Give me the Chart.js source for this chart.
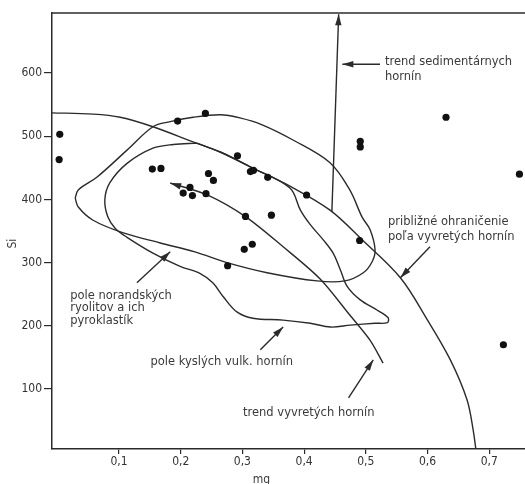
<!DOCTYPE html>
<html lang="sk">
<head>
<meta charset="UTF-8">
<title>Si – mg</title>
<script src="https://cdn.jsdelivr.net/npm/chart.js"></script>
<style>
  html, body { margin: 0; padding: 0; background: #fff; }
  #graf { display: block; }
</style>
</head>
<body>
<canvas id="graf" width="525" height="484"></canvas>
<script>
// vzorky (mg, Si)
const mg = [0.004, 0.003, 0.154, 0.168, 0.195, 0.240, 0.292, 0.313, 0.318, 0.341,
            0.404, 0.245, 0.253, 0.215, 0.204, 0.219, 0.241, 0.305, 0.347, 0.316,
            0.303, 0.276, 0.490, 0.491, 0.491, 0.630, 0.749, 0.723];
const si = [503, 463, 448, 449, 524, 536, 469, 444, 446, 435,
            407, 441, 430, 419, 410, 406, 409, 373, 375, 329,
            321, 295, 335, 492, 483, 530, 440, 170];

const xTicks = [0.1, 0.2, 0.3, 0.4, 0.5, 0.6, 0.7];
const yTicks = [100, 200, 300, 400, 500, 600];

// priblizne ohranicenie pola vyvretych hornin
const ohranicenie = [[-0.01, 537], [0.058, 535], [0.102, 530], [0.155, 515], [0.220, 491],
  [0.264, 475], [0.316, 450], [0.377, 421], [0.442, 383], [0.494, 336], [0.556, 276],
  [0.600, 209], [0.637, 146], [0.664, 83], [0.674, 35], [0.679, 0]];

// pole norandskych ryolitov
const norandske = [[0.029, 402], [0.034, 415], [0.064, 435], [0.113, 478], [0.155, 515],
  [0.183, 523], [0.220, 530], [0.264, 534], [0.296, 529], [0.332, 518], [0.382, 494],
  [0.442, 458], [0.474, 415], [0.494, 372], [0.507, 352], [0.515, 320], [0.510, 301],
  [0.496, 284], [0.466, 271], [0.421, 271], [0.340, 284], [0.275, 300], [0.223, 317],
  [0.167, 331], [0.107, 347], [0.058, 367], [0.034, 388], [0.029, 402]];

// pole kyslych vulk. hornin
const kysle = [[0.226, 489], [0.188, 487], [0.155, 481], [0.113, 457], [0.085, 426],
  [0.077, 399], [0.082, 372], [0.094, 354], [0.113, 340], [0.155, 315], [0.199, 294],
  [0.231, 283], [0.252, 268], [0.269, 246], [0.291, 222], [0.317, 212], [0.366, 209],
  [0.410, 204], [0.443, 198], [0.475, 201], [0.515, 204], [0.535, 205], [0.536, 213],
  [0.518, 225], [0.491, 241], [0.470, 262], [0.459, 288], [0.447, 315], [0.431, 336],
  [0.410, 360], [0.394, 383], [0.377, 418], [0.316, 450], [0.264, 475], [0.226, 489]];

// trendy (posledny bod = hrot sipky)
const trendVyvrete = [[0.528, 141], [0.507, 177], [0.474, 217], [0.426, 274], [0.366, 325],
  [0.306, 372], [0.243, 407], [0.183, 426]];
const trendSediment = [[0.445, 380], [0.456, 693]];

// odkazove sipky k popisom
const sipky = [
  [[0.523, 614], [0.462, 614]],
  [[0.604, 325], [0.556, 276]],
  [[0.129, 268], [0.183, 317]],
  [[0.329, 162], [0.366, 198]],
  [[0.472, 86], [0.512, 146]]
];

const popisy = [
  { text: 'trend sedimentárnych', mg: 0.531, si: 617 },
  { text: 'hornín', mg: 0.531, si: 593 },
  { text: 'približné ohraničenie', mg: 0.536, si: 364 },
  { text: 'poľa vyvretých hornín', mg: 0.536, si: 340 },
  { text: 'pole norandských', mg: 0.021, si: 247 },
  { text: 'ryolitov a ich', mg: 0.021, si: 228 },
  { text: 'pyroklastík', mg: 0.021, si: 207 },
  { text: 'pole kyslých vulk. hornín', mg: 0.151, si: 143 },
  { text: 'trend vyvretých hornín', mg: 0.301, si: 62 }
];

const farba = '#2b2b2b';
const pismo = "'DejaVu Sans Condensed', 'DejaVu Sans', sans-serif";
const pismoPopis = "'DejaVu Sans', sans-serif";

function krivka(body, napnutie, sipka) {
  return {
    data: body.map(b => ({ x: b[0], y: b[1] })),
    showLine: true,
    tension: napnutie,
    borderColor: farba,
    borderWidth: 1.4,
    pointRadius: 0,
    fill: false,
    sipka: sipka
  };
}

const kresba = {
  id: 'kresba',
  afterDatasetsDraw(chart) {
    const { ctx, chartArea, scales: { x, y } } = chart;
    ctx.save();
    // horny okraj
    ctx.strokeStyle = farba;
    ctx.lineWidth = 1.5;
    ctx.beginPath();
    ctx.moveTo(chartArea.left, chartArea.top);
    ctx.lineTo(chartArea.right, chartArea.top);
    ctx.stroke();

    // hroty sipok
    ctx.fillStyle = farba;
    chart.data.datasets.forEach((ds, i) => {
      if (!ds.sipka) return;
      const el = chart.getDatasetMeta(i).data;
      const a = el[el.length - 2], b = el[el.length - 1];
      const uhol = Math.atan2(b.y - a.y, b.x - a.x);
      ctx.save();
      ctx.translate(b.x, b.y);
      ctx.rotate(uhol);
      ctx.beginPath();
      ctx.moveTo(0, 0);
      ctx.lineTo(-11, -3.2);
      ctx.lineTo(-11, 3.2);
      ctx.closePath();
      ctx.fill();
      ctx.restore();
    });

    // popisy
    ctx.fillStyle = '#3a3a3a';
    ctx.font = '11.5px ' + pismoPopis;
    ctx.textAlign = 'left';
    ctx.textBaseline = 'middle';
    popisy.forEach(p => ctx.fillText(p.text, x.getPixelForValue(p.mg), y.getPixelForValue(p.si)));

    // nazvy osi
    ctx.font = '12px ' + pismo;
    ctx.textAlign = 'center';
    ctx.fillText('mg', x.getPixelForValue(0.331), chartArea.bottom + 31);
    ctx.translate(chartArea.left - 39, y.getPixelForValue(330));
    ctx.rotate(-Math.PI / 2);
    ctx.fillText('Si', 0, 0);
    ctx.restore();
  }
};

const ctx = document.getElementById('graf');

new Chart(ctx, {
  type: 'scatter',
  data: {
    datasets: [
      {
        data: mg.map((v, i) => ({ x: v, y: si[i] })),
        backgroundColor: '#111',
        borderWidth: 0,
        pointRadius: 3.6
      },
      krivka(ohranicenie, 0.35, false),
      krivka(norandske, 0.35, false),
      krivka(kysle, 0.35, false),
      krivka(trendVyvrete, 0.3, true),
      krivka(trendSediment, 0, true),
      ...sipky.map(s => krivka(s, 0, true))
    ]
  },
  options: {
    responsive: false,
    animation: false,
    layout: { autoPadding: false, padding: { top: 13, right: 0, left: 0, bottom: 0 } },
    plugins: { legend: { display: false }, tooltip: { enabled: false } },
    scales: {
      x: {
        type: 'linear',
        min: -0.0086,
        max: 0.758,
        afterBuildTicks: s => { s.ticks = xTicks.map(v => ({ value: v })); },
        afterFit: s => { s.height = 35; s.paddingLeft = 0; s.paddingRight = 0; },
        grid: { drawOnChartArea: false, drawTicks: true, tickLength: 5, color: farba, lineWidth: 1.2 },
        border: { color: farba, width: 1.5 },
        ticks: {
          padding: 1,
          color: '#333',
          autoSkip: false,
          maxRotation: 0,
          font: { family: pismo, size: 12 },
          callback: v => v.toFixed(1).replace('.', ',')
        }
      },
      y: {
        type: 'linear',
        min: 5,
        max: 695,
        afterBuildTicks: s => { s.ticks = yTicks.map(v => ({ value: v })); },
        afterFit: s => { s.width = 52; s.paddingTop = 0; s.paddingBottom = 0; },
        grid: { drawOnChartArea: false, drawTicks: true, tickLength: 8, color: farba, lineWidth: 1.2 },
        border: { color: farba, width: 1.5 },
        ticks: {
          padding: 2,
          color: '#333',
          font: { family: pismo, size: 12 }
        }
      }
    }
  },
  plugins: [kresba]
});
</script>
</body>
</html>
